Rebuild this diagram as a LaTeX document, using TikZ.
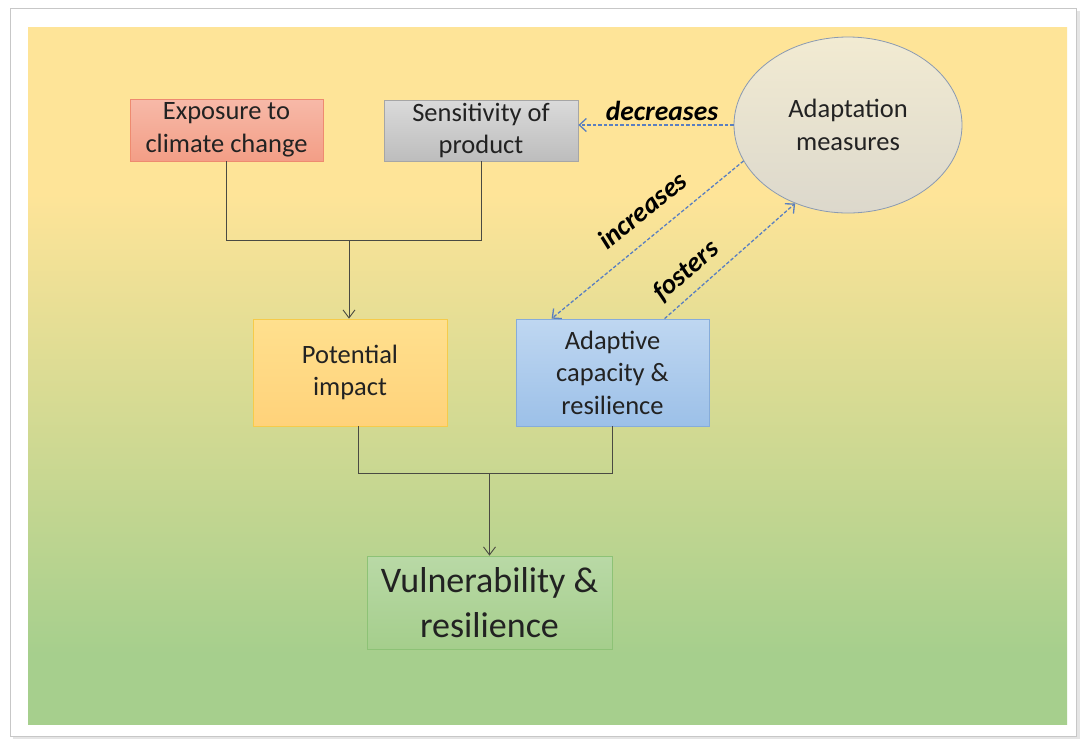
\documentclass[tikz,border=0pt]{standalone}
\usepackage{fontspec}
\setmainfont{Carlito}
\usetikzlibrary{arrows.meta,shapes.geometric}

% palette
\definecolor{panelyellow}{HTML}{FEE498}
\definecolor{panelgreen}{HTML}{A6CF8D}
\definecolor{textdark}{HTML}{222222}
\definecolor{linegray}{HTML}{4A4A42}
\definecolor{dashblue}{HTML}{5A7FC0}
\definecolor{expotop}{HTML}{F7B9A8}
\definecolor{expobot}{HTML}{F39E86}
\definecolor{expoline}{HTML}{EE8A70}
\definecolor{senstop}{HTML}{DADADA}
\definecolor{sensbot}{HTML}{BDBDBD}
\definecolor{sensline}{HTML}{A6A6A6}
\definecolor{pottop}{HTML}{FFE08E}
\definecolor{potbot}{HTML}{FFD27A}
\definecolor{potline}{HTML}{F6CB4A}
\definecolor{adaptop}{HTML}{BFD7F1}
\definecolor{adapbot}{HTML}{9CC0E8}
\definecolor{adapline}{HTML}{86ACDA}
\definecolor{vultop}{HTML}{B9D9A6}
\definecolor{vulbot}{HTML}{A5CE8C}
\definecolor{vulline}{HTML}{8DC276}
\definecolor{elltop}{HTML}{F2EBD2}
\definecolor{ellbot}{HTML}{DCD8CC}
\definecolor{ellline}{HTML}{8A9AB2}

% background panel: yellow at the top, fading to green at the bottom
\pgfdeclareverticalshading{panelshade}{100bp}{color(0bp)=(panelgreen); color(30bp)=(panelgreen); color(63bp)=(panelyellow); color(100bp)=(panelyellow)}

\tikzset{
  box/.style={rectangle, draw, line width=0.8pt, inner sep=0pt, align=center,
    text=textdark, font=\fontsize{26.5}{32.5}\selectfont},
  conn/.style={draw=linegray, line width=0.9pt},
  connarrow/.style={conn, -{Straight Barb[length=8pt,width=12pt]}},
  dasharrow/.style={draw=dashblue, line width=1.3pt, dash pattern=on 3.5pt off 2pt,
    -{Straight Barb[length=7pt,width=13pt]}},
  lab/.style={inner sep=0pt, text=black, font=\fontsize{27.5}{30}\selectfont\bfseries\itshape}
}

\begin{document}
\begin{tikzpicture}[x=1pt,y=-1pt]
\useasboundingbox (0,0) rectangle (1081,740);
\fill[white] (0,0) rectangle (1081,740);

% framed card with soft shadow
\fill[black!10] (13,11) rectangle (1080,739);
\filldraw[fill=white, draw=black!22, line width=1pt] (10,8) rectangle (1076,736);
\shade[shading=panelshade] (28,27) rectangle (1067,724);

% boxes
\node[box, minimum width=193pt, minimum height=62pt,
      top color=expotop, bottom color=expobot, draw=expoline]
      (expo) at (226.5,130) {Exposure to\\climate change};
\node[box, minimum width=194pt, minimum height=61pt,
      top color=senstop, bottom color=sensbot, draw=sensline]
      (sens) at (481,130.5) {Sensitivity of\\product};
\node[box, ellipse, minimum width=228pt, minimum height=176pt,
      top color=elltop, bottom color=ellbot, draw=ellline]
      (ell) at (848,125) {Adaptation\\measures};
\node[box, minimum width=194pt, minimum height=107pt,
      top color=pottop, bottom color=potbot, draw=potline]
      (pot) at (350,372.5) {Potential\\impact};
\node[box, minimum width=193pt, minimum height=107pt,
      top color=adaptop, bottom color=adapbot, draw=adapline]
      (adap) at (612.5,372.5) {Adaptive\\capacity \&\\resilience};
\node[box, minimum width=245pt, minimum height=93pt,
      top color=vultop, bottom color=vulbot, draw=vulline,
      font=\fontsize{36}{45}\selectfont]
      (vul) at (489.5,602.5) {Vulnerability \&\\resilience};

% exposure + sensitivity -> potential impact
\coordinate (topjoin) at (349,240);
\draw[conn] (expo.south) -- (expo.south |- topjoin) -- (sens.south |- topjoin) -- (sens.south);
\draw[connarrow] (topjoin) -- (pot.north -| topjoin);

% potential impact + adaptive capacity -> vulnerability
\coordinate (potfoot) at ([xshift=8pt]pot.south);
\coordinate (botjoin) at (489.5,473);
\draw[conn] (potfoot) -- (potfoot |- botjoin) -- (adap.south |- botjoin) -- (adap.south);
\draw[connarrow] (botjoin) -- (vul.north);

% adaptation measures relations
\coordinate (incend) at ([xshift=36pt]adap.north west);
\coordinate (fosstart) at ([xshift=149pt]adap.north west);
\draw[dasharrow] (ell.west) -- (ell.west -| sens.east);
\draw[dasharrow] (ell.199) -- (incend);
\draw[dasharrow] (fosstart) -- (ell.236);

\node[lab] (decr) at (662,111) {decreases};
\node[lab, rotate=39] (incr) at (642,210) {increases};
\node[lab, rotate=41] (fost) at (686,271) {fosters};
\end{tikzpicture}
\end{document}
